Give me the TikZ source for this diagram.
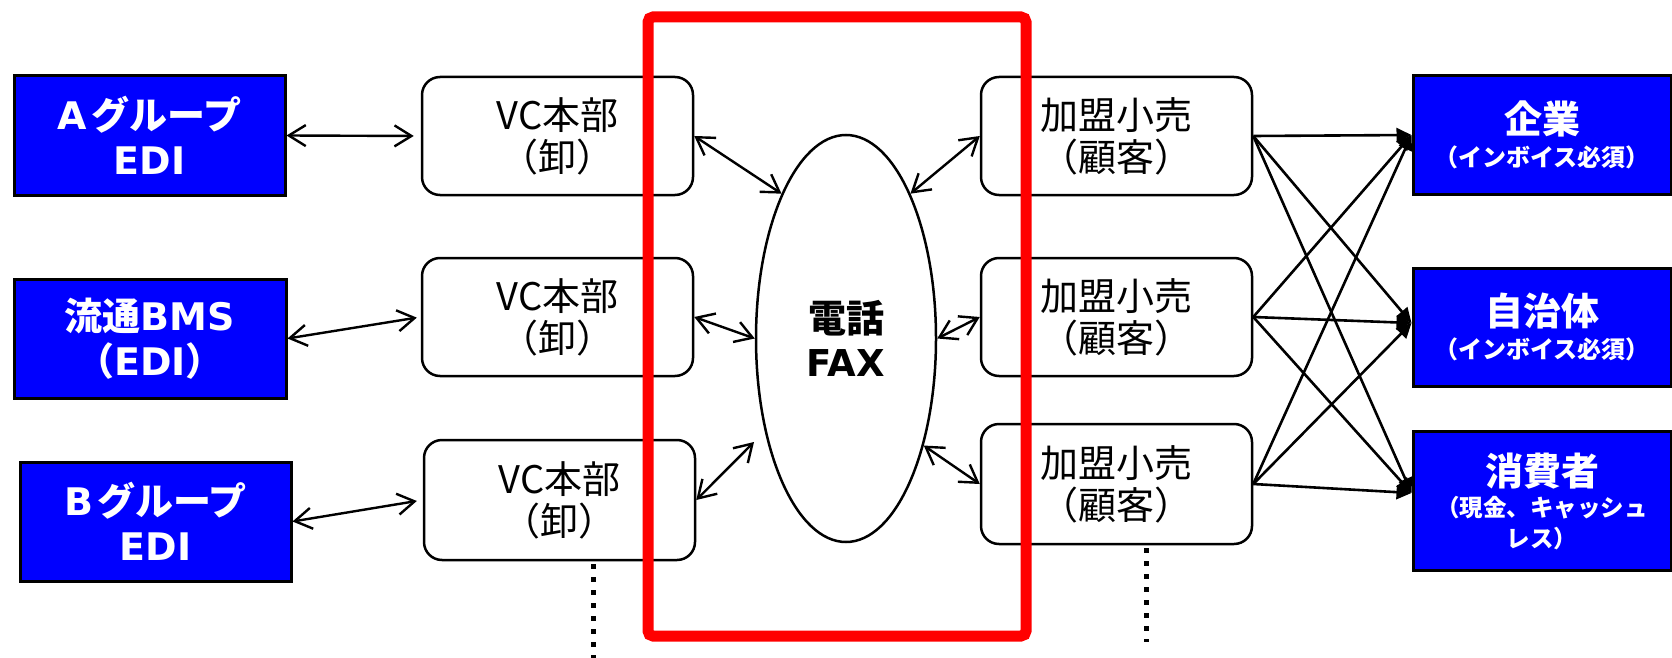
\documentclass[tikz,border=0pt]{standalone}
\usepackage{fontspec}
\setmainfont{Noto Sans CJK JP}
\newfontfamily\lat{DejaVu Sans}
\usetikzlibrary{arrows.meta,shapes.geometric}
\newcommand\smtxt{\fontsize{24}{33}\selectfont}
\newcommand\smtxtb{\fontsize{23.5}{31}\selectfont}
\begin{document}
\begin{tikzpicture}[x=1pt,y=-1pt,
  bluebox/.style={draw=black,line width=3pt,fill=blue,text=white,align=center,inner sep=0pt,font=\bfseries\fontsize{38}{45}\selectfont},
  rbox/.style={bluebox,font=\bfseries\fontsize{38}{33}\selectfont,minimum width=258pt},
  wbox/.style={draw=black,line width=2.5pt,rounded corners=18pt,fill=white,align=center,inner sep=0pt,minimum width=271pt,minimum height=118pt,font=\fontsize{38}{42}\selectfont},
  bi/.style={line width=2.4pt,{Straight Barb[length=17pt,width=21pt]}-{Straight Barb[length=17pt,width=21pt]}},
  one/.style={line width=2.6pt,-{Triangle[length=15pt,width=14pt]}},
  dots/.style={line width=5pt,dash pattern=on 5pt off 8pt}]
\useasboundingbox (0,0) rectangle (1672,658);

% left blue boxes
\node[bluebox,minimum width=271pt,minimum height=119pt] (ag) at (149.5,135.5) {{\lat A}\hspace{4pt}グループ\\{\lat EDI}};
\node[bluebox,minimum width=272pt,minimum height=119pt] (bms) at (150,338.5) {流通{\lat BMS}\\（{\lat EDI}）};
\node[bluebox,minimum width=271pt,minimum height=119pt] (bg) at (155.5,521.5) {{\lat B}\hspace{4pt}グループ\\{\lat EDI}};

% VC boxes
\node[wbox] (vc1) at (557.5,136) {VC本部\\（卸）};
\node[wbox] (vc2) at (557.5,317) {VC本部\\（卸）};
\node[wbox,minimum height=120pt] (vc3) at (559.5,500) {VC本部\\（卸）};

% franchise boxes
\node[wbox] (k1) at (1116.5,136) {加盟小売\\（顧客）};
\node[wbox] (k2) at (1116.5,317) {加盟小売\\（顧客）};
\node[wbox,minimum height=120pt] (k3) at (1116.5,484) {加盟小売\\（顧客）};

% ellipse
\node[ellipse,draw=black,line width=2.5pt,fill=white,minimum width=180pt,minimum height=407pt,inner sep=0pt,align=center,font=\bfseries\fontsize{38}{44}\selectfont] (fax) at (846,338.5) {電話\\{\lat\fontsize{37}{44}\selectfont FAX}};

% right blue boxes
\node[rbox,minimum height=118pt] (kigyo) at (1542,135) {企業\\{\smtxt （インボイス必須）}};
\node[rbox,minimum height=118pt] (jichi) at (1542,327) {自治体\\{\smtxt （インボイス必須）}};
\node[rbox,minimum height=139pt,font=\bfseries\fontsize{38}{31}\selectfont] (shohi) at (1542,501) {消費者\\{\smtxtb （現金、キャッシュ}\\{\smtxtb レス）}};

% left arrows
\draw[bi,shorten >=7pt] (ag.east) -- (vc1.west);
\draw[bi,shorten >=4pt] (bms.east) -- (vc2.west);
\draw[bi,shorten >=6pt] (bg.east) -- (vc3.west);

% arrows to/from the ellipse
\coordinate (f3) at (754,442);
\draw[bi] (vc1.east) -- (fax.114);
\draw[bi] (vc2.east) -- (fax.west);
\draw[bi] (vc3.east) -- (f3);
\draw[bi] (fax.66) -- (k1.west);
\draw[bi] (fax.east) -- (k2.west);
\draw[bi] (fax.-54) -- (k3.west);

% fan-out arrows
\foreach \s in {k1,k2,k3}{
  \draw[one] (\s.east) -- (kigyo.west);
  \draw[one] (\s.east) -- ([yshift=4pt]jichi.west);
  \draw[one] (\s.east) -- ([yshift=8pt]shohi.west);
}

% dotted continuations
\coordinate (e1) at (593,662);
\coordinate (e2) at (1146,642);
\draw[dots] ([xshift=33.5pt,yshift=-3pt]vc3.south) -- (e1);
\draw[dots] ([xshift=29.5pt,yshift=-3pt]k3.south) -- (e2);

% red frame
\draw[red,line width=11pt,rounded corners=5pt] (648,17) rectangle (1026,636);
\end{tikzpicture}
\end{document}
